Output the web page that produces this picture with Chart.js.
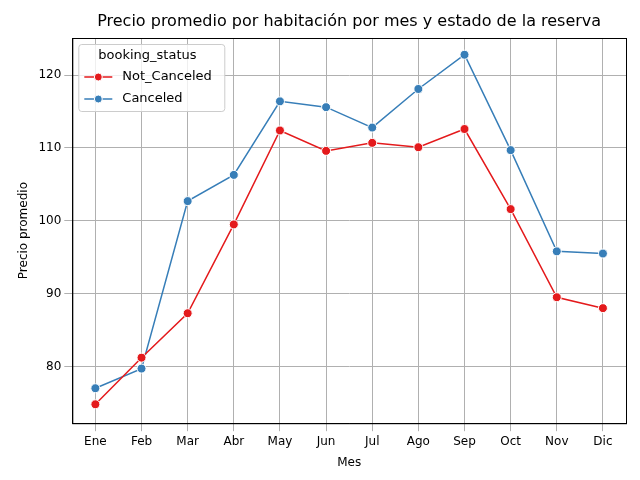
<!DOCTYPE html>
<html><head><meta charset="utf-8">
<script src="https://cdn.jsdelivr.net/npm/chart.js@4"></script>
<style>body{margin:0;background:#fff}#wrap{width:640px;height:480px}</style>
</head><body><div id="wrap"><canvas id="c"></canvas></div>
<script>
var months = ['Ene','Feb','Mar','Abr','May','Jun','Jul','Ago','Sep','Oct','Nov','Dic'];
var notCanceled = [74.8,81.2,87.3,99.5,112.4,109.6,110.7,110.1,112.6,101.6,89.5,88.0];
var canceled = [77.0,79.7,102.7,106.3,116.4,115.6,112.8,118.1,122.8,109.7,95.8,95.5];
var yTicks = [80,90,100,110,120];
var titleText = 'Precio promedio por habitación por mes y estado de la reserva';

var font = "'DejaVu Sans', sans-serif";
Chart.defaults.font.family = font;
Chart.defaults.color = '#000';

// title centred over plot, frame, and legend box inside the plot (matplotlib style)
var innerLegend = {
  id: 'innerLegend',
  afterDraw: function(chart) {
    var ctx = chart.ctx, a = chart.chartArea;
    ctx.save();
    ctx.fillStyle = '#000'; ctx.font = '16px ' + font; ctx.textAlign = 'center'; ctx.textBaseline = 'middle';
    ctx.fillText(titleText, (a.left + a.right) / 2, a.top - 16);
    ctx.textAlign = 'left';
    ctx.strokeStyle = '#000'; ctx.lineWidth = 1;
    ctx.strokeRect(a.left + 0.5, a.top + 0.5, a.right - a.left, a.bottom - a.top);
    var x = a.left + 6, y = a.top + 6, w = 146, h = 67;
    ctx.fillStyle = 'rgba(255,255,255,0.8)';
    ctx.strokeStyle = '#ccc';
    ctx.beginPath(); ctx.roundRect(x + 0.5, y + 0.5, w, h, 3); ctx.fill(); ctx.stroke();
    ctx.fillStyle = '#000'; ctx.font = '13px ' + font; ctx.textBaseline = 'middle';
    ctx.fillText('booking_status', x + 20, y + 12);
    chart.data.datasets.forEach(function(ds, i) {
      var ly = y + 33 + i * 22;
      ctx.strokeStyle = ds.borderColor; ctx.lineWidth = 1.5;
      ctx.beginPath(); ctx.moveTo(x + 6, ly); ctx.lineTo(x + 34, ly); ctx.stroke();
      ctx.fillStyle = ds.borderColor; ctx.strokeStyle = '#fff'; ctx.lineWidth = 1;
      ctx.beginPath(); ctx.arc(x + 20, ly, 4, 0, Math.PI * 2); ctx.fill(); ctx.stroke();
      ctx.fillStyle = '#000';
      ctx.fillText(ds.label, x + 44, ly);
    });
    ctx.restore();
  }
};

var pt = { pointRadius: 4.5, pointBorderColor: '#fff', pointBorderWidth: 1, borderWidth: 1.5, tension: 0, fill: false };
new Chart(document.getElementById('c'), {
  type: 'line',
  data: { labels: months, datasets: [
    Object.assign({ label: 'Not_Canceled', data: notCanceled, borderColor: '#e41a1c', pointBackgroundColor: '#e41a1c' }, pt),
    Object.assign({ label: 'Canceled', data: canceled, borderColor: '#377eb8', pointBackgroundColor: '#377eb8' }, pt)
  ]},
  options: {
    responsive: true, maintainAspectRatio: false, animation: false,
    layout: { padding: { left: 13, right: 14, top: 38, bottom: 6 } },
    plugins: { legend: { display: false }, tooltip: { enabled: false } },
    scales: {
      x: { offset: true, grid: { color: '#b0b0b0', offset: false }, border: { color: '#000' },
           ticks: { font: { size: 12 } }, title: { display: true, text: 'Mes', font: { size: 12 } } },
      y: { min: 72.2, max: 125.1, grid: { color: '#b0b0b0' }, border: { color: '#000' },
           afterBuildTicks: function(s) { s.ticks = yTicks.map(function(v) { return { value: v }; }); },
           ticks: { font: { size: 12 } }, title: { display: true, text: 'Precio promedio', font: { size: 12 } } }
    }
  },
  plugins: [innerLegend]
});
</script></body></html>
